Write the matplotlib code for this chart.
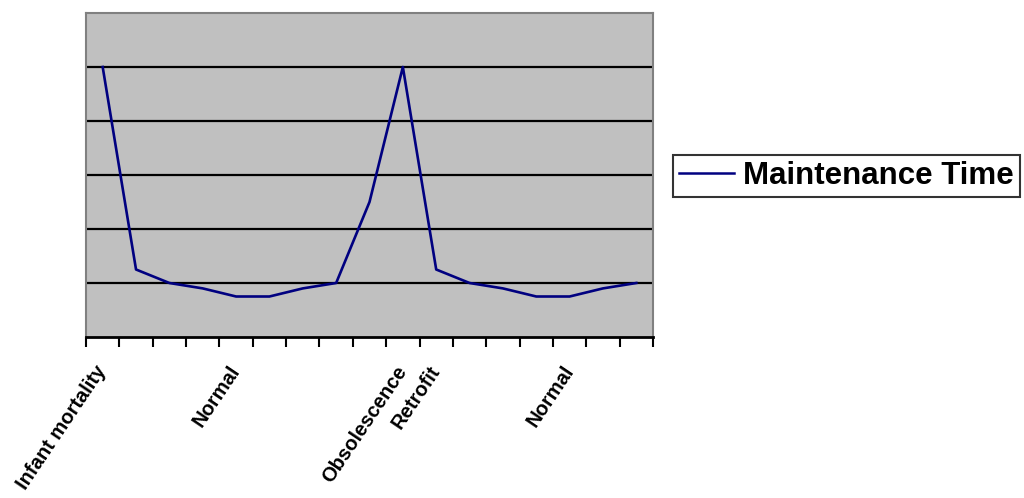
import numpy as np
import matplotlib
matplotlib.use("Agg")
import matplotlib.pyplot as plt
import matplotlib.transforms as mtransforms

plt.rcParams['font.family'] = ['Liberation Sans', 'DejaVu Sans']

# one value per period, 17 periods
maintenance_time = [5, 1.25, 1, 0.9, 0.75, 0.75, 0.9, 1, 2.5, 5,
                    1.25, 1, 0.9, 0.75, 0.75, 0.9, 1]
label_pos = [0, 4, 9, 10, 14]
label_text = ["Infant mortality", "Normal", "Obsolescence", "Retrofit", "Normal"]
grid_levels = [1, 2, 3, 4, 5]

fig = plt.figure(figsize=(10.24, 4.98), dpi=100)
ax = fig.add_axes([86 / 1024, 1 - 337 / 498, (653 - 86) / 1024, (337 - 13) / 498])
ax.set_facecolor('#C0C0C0')

x = np.arange(len(maintenance_time))
for g in grid_levels:
    ax.axhline(g, color='black', lw=1.6, zorder=1)
ax.plot(x, maintenance_time, color='#000080', lw=1.9, zorder=3, label='Maintenance Time')

ax.set_xlim(-0.5, len(x) - 0.5)
ax.set_ylim(0, 6)
ax.set_yticks([])

# tick marks sit between the categories, labels at the categories
ax.set_xticks(np.arange(len(x) + 1) - 0.5, minor=True)
ax.set_xticks(label_pos)
ax.set_xticklabels(label_text, rotation=56, ha='right', va='top',
                   rotation_mode='anchor', fontsize=14.5, fontweight='bold')
ax.tick_params(axis='x', which='major', length=0, pad=14)
ax.tick_params(axis='x', which='minor', length=7, width=1.5, direction='out', color='black')

# nudge labels a little left and down
shift = mtransforms.ScaledTranslation(-8 / 100, -6 / 100, fig.dpi_scale_trans)
for lbl in ax.get_xticklabels():
    lbl.set_transform(lbl.get_transform() + shift)

for s in ['left', 'top', 'right']:
    ax.spines[s].set_color('#808080')
    ax.spines[s].set_linewidth(1.5)
ax.spines['bottom'].set_color('black')
ax.spines['bottom'].set_linewidth(2)

leg = fig.legend(loc='center left', bbox_to_anchor=(673 / 1024, 1 - 176 / 498),
                 prop={'size': 22.5, 'weight': 'bold'}, frameon=True, fancybox=False,
                 handlelength=1.75, handletextpad=0.3, borderpad=0.2, borderaxespad=0)
leg.get_frame().set_edgecolor('black')
leg.get_frame().set_linewidth(1.5)
leg.get_lines()[0].set_linewidth(1.8)

fig.savefig('out.png', dpi=100)
